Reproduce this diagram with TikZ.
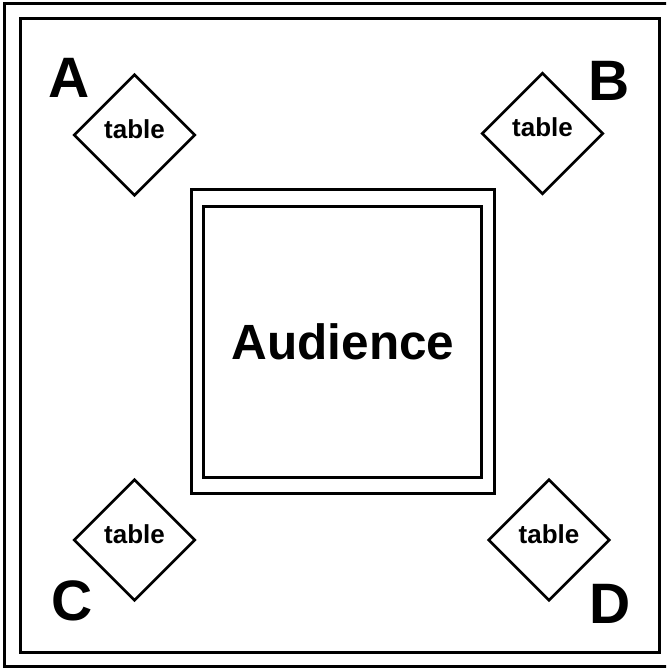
\documentclass[tikz,border=0pt]{standalone}
\usepackage{fontspec}
\setmainfont{Liberation Sans}
\usetikzlibrary{
    shapes.geometric,
    calc
}

\begin{document}
\begin{tikzpicture}[
        x=1pt, y=-1pt,
        wall/.style={
            draw,
            line width=3pt
        },
        tablebox/.style={
            diamond,
            draw,
            line width=2.6pt,
            minimum width=121.5pt,
            minimum height=121.5pt,
            inner sep=0pt,
            font=\bfseries\fontsize{26}{26}\selectfont,
            text height=18.6pt,
            text depth=12pt
        },
        corner/.style={
            inner sep=0pt,
            font=\bfseries\fontsize{57}{57}\selectfont
        },
        hall/.style={
            rectangle,
            draw,
            line width=3pt,
            minimum width=302.3pt,
            minimum height=303.8pt,
            inner sep=0pt,
            font=\bfseries\fontsize{49.5}{49.5}\selectfont
        }
    ]

    \useasboundingbox (0,0) rectangle (666,668);
    \clip (0,0) rectangle (666,668);

    % room walls
    \draw[wall] (4.5,4) rectangle (668,666.5);
    \draw[wall] (20.5,19) rectangle (659,652.3);

    % audience area
    \node[hall] (audience) at (342.9,341.9) {Audience};
    \draw[wall]
        ($(audience.south west)+(13.6,-18.3)$)
        rectangle
        ($(audience.north east)+(-14.5,18)$);

    % tables
    \node[tablebox] (tableA) at (134.5,135) {table};
    \node[tablebox] (tableB) at (542.5,133.5) {table};
    \node[tablebox] (tableC) at (134.5,540) {table};
    \node[tablebox] (tableD) at (549,540) {table};

    \node[corner] (labelA) at (69.5,77.5) {A};
    \node[corner] (labelB) at (609.5,81) {B};
    \node[corner] (labelC) at (72,600.5) {C};
    \node[corner] (labelD) at (610,604) {D};

\end{tikzpicture}
\end{document}
